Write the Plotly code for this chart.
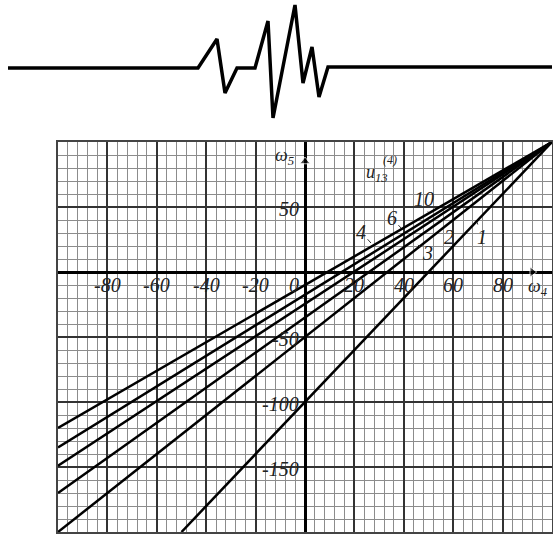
import plotly.graph_objects as go

# ---- data ----
line_labels = ["1", "2", "3", "4", "6", "10"]
w4_start = [-50, -100, -100, -100, -100, -100]
w5_start = [-200, -200, -170, -149, -135, -120]
w4_end = [100, 100, 100, 100, 100, 100]
w5_end = [100, 100, 100, 100, 100, 100]

# label text positions and leader end points (data units)
lab_x = [71.7, 58.3, 49.5, 22.7, 35.2, 48.2]
lab_y = [26.9, 26.9, 14.4, 30.8, 41.5, 56.2]
lead_x = [69.6, None, 45.7, 26.7, 38.9, 49.8]
lead_y = [38.5, None, 20.8, 22.3, 33.8, 46.2]

x_tick_vals = [-80, -60, -40, -20, 0, 20, 40, 60, 80]
y_tick_vals = [50, -50, -100, -150]

# axis arrow tips
arrow_x = [0, 92]
arrow_y = [85, 0]
arrow_sym = ["triangle-up", "triangle-right"]

# decorative seismic trace (pixel units of the header strip)
sig_x = [8, 198, 217, 225, 237, 255, 268, 273, 295, 303, 312, 319, 328, 553]
sig_y = [68, 68, 39, 93, 68, 68, 21, 118, 5, 83, 47, 97, 67, 67]

W, H = 553, 535
ML, MR, MT, MB = 0, 1, 0, 3
PW, PH = W - ML - MR, H - MT - MB

fig = go.Figure()

for i, lab in enumerate(line_labels):
    fig.add_trace(go.Scatter(
        x=[w4_start[i], w4_end[i]], y=[w5_start[i], w5_end[i]],
        mode="lines", line=dict(color="black", width=2.5),
        hoverinfo="skip", showlegend=False, xaxis="x", yaxis="y"))

fig.add_trace(go.Scatter(
    x=arrow_x, y=arrow_y, mode="markers",
    marker=dict(symbol=arrow_sym, size=[9, 9], color="black"),
    hoverinfo="skip", showlegend=False, xaxis="x", yaxis="y", cliponaxis=False))

fig.add_trace(go.Scatter(
    x=sig_x, y=sig_y, mode="lines",
    line=dict(color="black", width=3.5),
    hoverinfo="skip", showlegend=False, xaxis="x2", yaxis="y2"))

FONT = "Liberation Serif"
TXT = "#222222"
ann = []
for v in x_tick_vals:
    ann.append(dict(x=v, y=0, xref="x", yref="y", text=f"<i>{v}</i>",
                    showarrow=False, xanchor="center", yanchor="middle",
                    xshift=-11 if v == 0 else 0, yshift=-13,
                    font=dict(family=FONT, size=20, color=TXT)))
for v in y_tick_vals:
    ann.append(dict(x=0, y=v, xref="x", yref="y", text=f"<i>{v}</i>",
                    showarrow=False, xanchor="right", yanchor="middle",
                    xshift=-4, yshift=-2,
                    font=dict(family=FONT, size=20, color=TXT)))

for i, lab in enumerate(line_labels):
    if lead_x[i] is None:
        ann.append(dict(x=lab_x[i], y=lab_y[i], xref="x", yref="y",
                        text=f"<i>{lab}</i>", showarrow=False,
                        font=dict(family=FONT, size=20, color=TXT)))
    else:
        ann.append(dict(x=lead_x[i], y=lead_y[i], xref="x", yref="y",
                        ax=lab_x[i], ay=lab_y[i], axref="x", ayref="y",
                        text=f"<i>{lab}</i>", showarrow=True, arrowhead=0,
                        arrowwidth=1, arrowcolor="#333", standoff=0,
                        font=dict(family=FONT, size=20, color=TXT)))

# axis names
ann.append(dict(x=-8.5, y=88.5, xref="x", yref="y", text="<i>ω<sub>5</sub></i>",
                showarrow=False, font=dict(family=FONT, size=18, color=TXT)))
ann.append(dict(x=94.5, y=-12, xref="x", yref="y", text="<i>ω<sub>4</sub></i>",
                showarrow=False, font=dict(family=FONT, size=18, color=TXT)))
ann.append(dict(x=29, y=76, xref="x", yref="y", text="<i>u<sub>13</sub></i>",
                showarrow=False, font=dict(family=FONT, size=18, color=TXT)))
ann.append(dict(x=34.5, y=86, xref="x", yref="y", text="<i>(4)</i>",
                showarrow=False, font=dict(family=FONT, size=12, color=TXT)))

fig.update_layout(
    width=W, height=H,
    margin=dict(l=ML, r=MR, t=MT, b=MB),
    paper_bgcolor="white", plot_bgcolor="white",
    showlegend=False,
    annotations=ann,
    xaxis=dict(domain=[58 / PW, 1], range=[-100, 100], tickmode="linear",
               tick0=0, dtick=20, showticklabels=False, ticks="",
               showgrid=True, gridcolor="#333333", gridwidth=1.5,
               minor=dict(tickmode="linear", tick0=0, dtick=4, showgrid=True,
                          gridcolor="#8c8c8c", gridwidth=1, ticks=""),
               zeroline=True, zerolinecolor="black", zerolinewidth=3,
               showline=True, mirror=True, linecolor="#444444", linewidth=2,
               fixedrange=True, anchor="y"),
    yaxis=dict(domain=[0, 390 / PH], range=[-200, 100], tickmode="linear",
               tick0=0, dtick=50, showticklabels=False, ticks="",
               showgrid=True, gridcolor="#333333", gridwidth=1.5,
               minor=dict(tickmode="linear", tick0=0, dtick=10, showgrid=True,
                          gridcolor="#8c8c8c", gridwidth=1, ticks=""),
               zeroline=True, zerolinecolor="black", zerolinewidth=3,
               showline=True, mirror=True, linecolor="#444444", linewidth=2,
               fixedrange=True, anchor="x"),
    xaxis2=dict(domain=[0, 1], range=[0, PW], visible=False, fixedrange=True,
                anchor="y2"),
    yaxis2=dict(domain=[(PH - 125) / PH, 1], range=[125, 0], visible=False,
                fixedrange=True, anchor="x2"),
)

fig.write_html("out.html", config={"displayModeBar": False},
               post_script="document.body.style.margin='0';document.body.style.overflow='hidden';")
